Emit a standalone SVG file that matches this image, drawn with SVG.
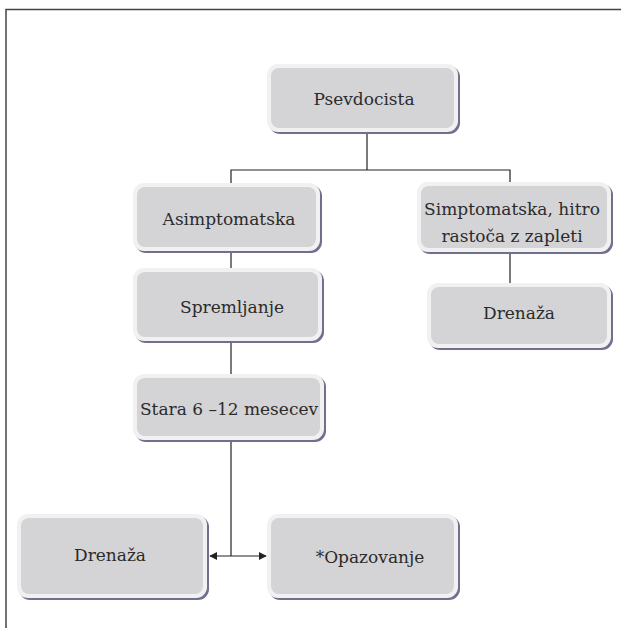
<svg xmlns="http://www.w3.org/2000/svg" width="621" height="628" viewBox="0 0 621 628">
<style>
.sh{fill:#6f6f8f}
.out{fill:#f1f1f1}
.in{fill:#d4d4d6}
.t{font-family:"DejaVu Serif",serif;font-size:17px;fill:#2b2b2b;text-anchor:middle}
.ln{stroke:#222;stroke-width:1.2;fill:none}
</style>
<defs>
<marker id="ah" viewBox="0 0 10 10" refX="9" refY="5" markerWidth="8" markerHeight="8" markerUnits="userSpaceOnUse" orient="auto-start-reverse">
<path d="M0,0 L10,5 L0,10 z" fill="#222"/>
</marker>
</defs>
<rect width="621" height="628" fill="#fff"/>
<path d="M6,628 V9.5 H621" fill="none" stroke="#444" stroke-width="1.5"/>
<g id="connectors">
<path class="ln" d="M367,132 V170 M231,183 V170 H510 V183"/>
<path class="ln" d="M231,252 V268"/>
<path class="ln" d="M510,253 V283"/>
<path class="ln" d="M231,342 V374"/>
<path class="ln" d="M231,440 V556"/>
<path class="ln" d="M210,556 H266" stroke-width="1.6" marker-start="url(#ah)" marker-end="url(#ah)"/>
</g>
<g id="psevdocista">
<rect class="sh" x="269" y="66" width="191" height="68" rx="11"/>
<rect class="out" x="267" y="64" width="191" height="68" rx="11"/>
<rect class="in" x="271" y="68" width="183" height="60" rx="8"/>
<text class="t" x="364" y="105">Psevdocista</text>
</g>
<g id="asimptomatska">
<rect class="sh" x="135" y="185" width="187" height="68" rx="11"/>
<rect class="out" x="133" y="183" width="187" height="68" rx="11"/>
<rect class="in" x="137" y="187" width="179" height="60" rx="8"/>
<text class="t" x="229" y="225">Asimptomatska</text>
</g>
<g id="simptomatska">
<rect class="sh" x="419" y="184" width="194" height="70" rx="11"/>
<rect class="out" x="417" y="182" width="194" height="70" rx="11"/>
<rect class="in" x="421" y="186" width="186" height="62" rx="8"/>
<text class="t" x="512" y="215">Simptomatska, hitro</text>
<text class="t" x="512" y="242">rastoča z zapleti</text>
</g>
<g id="drenaza-right">
<rect class="sh" x="429" y="285" width="184" height="65" rx="11"/>
<rect class="out" x="427" y="283" width="184" height="65" rx="11"/>
<rect class="in" x="431" y="287" width="176" height="57" rx="8"/>
<text class="t" x="519" y="319">Drenaža</text>
</g>
<g id="spremljanje">
<rect class="sh" x="135" y="270" width="189" height="73" rx="11"/>
<rect class="out" x="133" y="268" width="189" height="73" rx="11"/>
<rect class="in" x="137" y="272" width="181" height="65" rx="8"/>
<text class="t" x="232" y="313">Spremljanje</text>
</g>
<g id="stara">
<rect class="sh" x="135" y="376" width="191" height="66" rx="11"/>
<rect class="out" x="133" y="374" width="191" height="66" rx="11"/>
<rect class="in" x="137" y="378" width="183" height="58" rx="8"/>
<text class="t" x="229" y="415">Stara 6 –12 mesecev</text>
</g>
<g id="drenaza-left">
<rect class="sh" x="19" y="516" width="190" height="84" rx="11"/>
<rect class="out" x="17" y="514" width="190" height="84" rx="11"/>
<rect class="in" x="21" y="518" width="182" height="76" rx="8"/>
<text class="t" x="110" y="561">Drenaža</text>
</g>
<g id="opazovanje">
<rect class="sh" x="269" y="516" width="191" height="84" rx="11"/>
<rect class="out" x="267" y="514" width="191" height="84" rx="11"/>
<rect class="in" x="271" y="518" width="183" height="76" rx="8"/>
<text class="t" x="370" y="563">*Opazovanje</text>
</g>
</svg>
